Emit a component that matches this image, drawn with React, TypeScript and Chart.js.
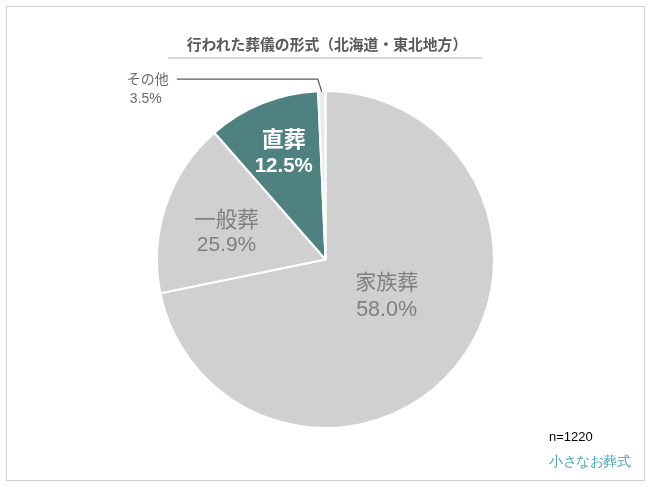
import React, { useEffect, useRef } from "react";
import { Chart, registerables } from "chart.js";

Chart.register(...registerables);

const titleText = "行われた葬儀の形式（北海道・東北地方）";
const categories = ["家族葬", "一般葬", "直葬", "その他"];
// slice sizes as drawn in the picture
const sliceValues = [71.8, 16.75, 10.75, 0.7];
// percentages as printed on the picture
const percentLabels = ["58.0%", "25.9%", "12.5%", "3.5%"];
const sampleNote = "n=1220";
const brandText = "小さなお葬式";

const sliceColors = ["#d0d0d0", "#d0d0d0", "#508181", "#e6ecee"];

const labelStyles = [
  { rf: 0.42, shift: -9, color: "#7f7f7f", bold: false, size: 21, psize: 21.5, gap: 29 },
  { rf: 0.61, shift: -3, color: "#7f7f7f", bold: false, size: 21.5, psize: 21, gap: 26 },
  { rf: 0.68, shift: 0.5, color: "#ffffff", bold: true, size: 22, psize: 20.5, gap: 28 },
];

const FONT = '"Noto Sans CJK JP", "Liberation Sans", Arial, sans-serif';

const labelPlugin = {
  id: "sliceLabels",
  afterDatasetsDraw(chart: any) {
    const ctx = chart.ctx;
    const meta = chart.getDatasetMeta(0);
    meta.data.forEach((arc: any, i: number) => {
      const p = arc.getProps(["x", "y", "startAngle", "endAngle", "outerRadius"], true);
      const mid = (p.startAngle + p.endAngle) / 2;
      ctx.save();
      if (i < labelStyles.length) {
        const s = labelStyles[i];
        const a = mid + (s.shift * Math.PI) / 180;
        const cx = p.x + Math.cos(a) * p.outerRadius * s.rf;
        const cy = p.y + Math.sin(a) * p.outerRadius * s.rf;
        ctx.fillStyle = s.color;
        ctx.textAlign = "center";
        ctx.textBaseline = "middle";
        ctx.font = `${s.bold ? "bold " : ""}${s.size}px ${FONT}`;
        ctx.fillText(categories[i], cx, cy - s.gap / 2);
        ctx.font = `${s.bold ? "bold " : ""}${s.psize}px "Liberation Sans", Arial, sans-serif`;
        ctx.fillText(percentLabels[i], cx, cy + s.gap / 2);
      } else {
        // outside label with leader line
        const ax = p.x + Math.cos(mid) * (p.outerRadius - 1);
        const ay = p.y + Math.sin(mid) * (p.outerRadius - 1);
        const ex = ax - 4;
        const ey = ay - 13;
        const lx = ex - 141;
        ctx.strokeStyle = "#595959";
        ctx.lineWidth = 1.2;
        ctx.beginPath();
        ctx.moveTo(ax, ay);
        ctx.lineTo(ex, ey);
        ctx.lineTo(lx, ey);
        ctx.stroke();
        ctx.fillStyle = "#6b6b6b";
        ctx.textAlign = "center";
        ctx.textBaseline = "middle";
        ctx.font = `14px ${FONT}`;
        ctx.fillText(categories[i], lx - 29, ey);
        ctx.font = `14px "Liberation Sans", Arial, sans-serif`;
        ctx.fillText(percentLabels[i], lx - 31, ey + 20);
      }
      ctx.restore();
    });
  },
};

export default function App() {
  const ref = useRef<HTMLCanvasElement>(null);
  useEffect(() => {
    document.body.style.margin = "0";
    const chart = new Chart(ref.current!, {
      type: "pie",
      data: {
        labels: categories,
        datasets: [
          {
            data: sliceValues,
            backgroundColor: sliceColors,
            borderColor: "#ffffff",
            borderWidth: 2,
          },
        ],
      },
      options: {
        animation: false,
        responsive: false,
        events: [],
        layout: { padding: { left: 156, right: 155, top: 89, bottom: 57 } },
        plugins: {
          legend: { display: false },
          tooltip: { enabled: false },
          title: { display: false },
        },
      },
      plugins: [labelPlugin],
    });
    return () => chart.destroy();
  }, []);

  return (
    <div style={{ position: "relative", width: 650, height: 487, background: "#fff", overflow: "hidden" }}>
      <div
        style={{
          position: "absolute",
          left: 6,
          top: 6,
          width: 639,
          height: 475,
          border: "1px solid #cfcfcf",
          boxSizing: "border-box",
        }}
      />
      <canvas ref={ref} width={650} height={487} style={{ position: "absolute", left: 0, top: 0 }} />
      <div
        style={{
          position: "absolute",
          left: 2,
          width: 650,
          top: 33,
          textAlign: "center",
          fontFamily: FONT,
          fontWeight: "bold",
          fontSize: 14.8,
          color: "#595959",
          lineHeight: "22px",
        }}
      >
        {titleText}
      </div>
      <div style={{ position: "absolute", left: 168, top: 57, width: 314, height: 2, background: "#d9d9d9" }} />
      <div
        style={{
          position: "absolute",
          left: 549,
          top: 428,
          fontFamily: '"Liberation Sans", Arial, sans-serif',
          fontSize: 13,
          color: "#000",
          lineHeight: "18px",
        }}
      >
        {sampleNote}
      </div>
      <div
        style={{
          position: "absolute",
          left: 549,
          top: 451,
          fontFamily: "serif",
          fontSize: 13.5,
          color: "#4fa3b6",
          lineHeight: "22px",
          letterSpacing: -0.4,
        }}
      >
        {brandText}
      </div>
    </div>
  );
}
